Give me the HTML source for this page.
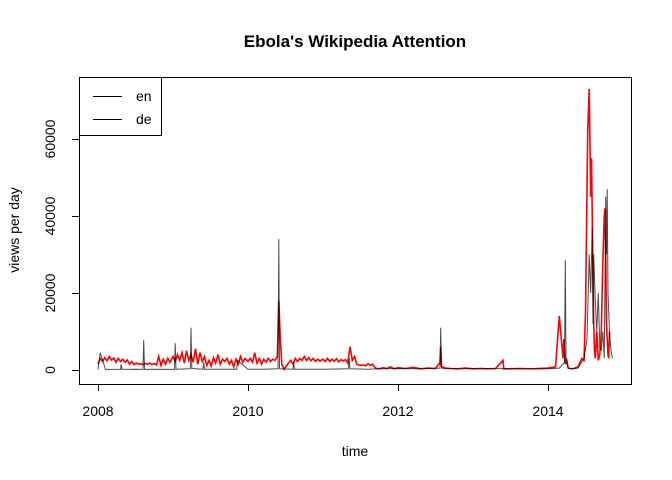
<!DOCTYPE html>
<html><head><meta charset="utf-8"><style>
body{margin:0;background:#fff;}
svg{display:block;font-family:"Liberation Sans",Arial,sans-serif;}
</style></head><body>
<svg id="chart" width="672" height="480" viewBox="0 0 672 480">
<rect width="672" height="480" fill="#fff"/>
<text x="355" y="47" font-size="17" font-weight="bold" text-anchor="middle">Ebola's Wikipedia Attention</text>
<text x="355" y="456" font-size="14" text-anchor="middle">time</text>
<text transform="translate(19,230) rotate(-90)" font-size="14" text-anchor="middle">views per day</text>
<g id="series"></g>
<g id="axes"></g>
<rect x="79.5" y="77.5" width="552" height="307" fill="none" stroke="#000"/>
<g>
<rect x="79.5" y="77.5" width="82" height="58" fill="#fff" stroke="#000"/>
<line x1="93" y1="96.5" x2="122" y2="96.5" stroke="#000"/>
<text x="136" y="101" font-size="14">en</text>
<line x1="93" y1="119.5" x2="122" y2="119.5" stroke="#000"/>
<text x="136" y="124" font-size="14">de</text>
</g>
</svg>
<script>
const xTicks=[2008,2010,2012,2014];
const yTicks=[0,20000,40000,60000];
const redYears=[2008.00,2008.03,2008.06,2008.09,2008.12,2008.15,2008.18,2008.21,2008.24,2008.27,2008.30,2008.33,2008.36,2008.39,2008.42,2008.45,2008.48,2008.51,2008.54,2008.57,2008.60,2008.63,2008.66,2008.69,2008.72,2008.75,2008.78,2008.81,2008.84,2008.87,2008.90,2008.93,2008.96,2009.00,2009.03,2009.06,2009.09,2009.12,2009.15,2009.18,2009.21,2009.24,2009.27,2009.30,2009.33,2009.36,2009.39,2009.42,2009.45,2009.48,2009.51,2009.54,2009.57,2009.60,2009.63,2009.66,2009.69,2009.72,2009.75,2009.78,2009.81,2009.84,2009.87,2009.90,2009.93,2009.96,2010.00,2010.03,2010.06,2010.09,2010.12,2010.15,2010.18,2010.21,2010.24,2010.27,2010.30,2010.33,2010.36,2010.39,2010.41,2010.43,2010.45,2010.48,2010.51,2010.54,2010.57,2010.60,2010.63,2010.66,2010.69,2010.72,2010.75,2010.78,2010.81,2010.84,2010.87,2010.90,2010.93,2010.96,2011.00,2011.03,2011.06,2011.09,2011.12,2011.15,2011.18,2011.21,2011.24,2011.27,2011.30,2011.33,2011.36,2011.39,2011.42,2011.45,2011.48,2011.51,2011.54,2011.57,2011.60,2011.63,2011.66,2011.70,2011.75,2011.80,2011.85,2011.90,2011.95,2012.00,2012.10,2012.20,2012.30,2012.40,2012.50,2012.56,2012.57,2012.58,2012.62,2012.70,2012.80,2012.90,2013.00,2013.10,2013.20,2013.30,2013.40,2013.41,2013.45,2013.60,2013.80,2014.00,2014.10,2014.15,2014.20,2014.21,2014.23,2014.25,2014.27,2014.30,2014.33,2014.36,2014.40,2014.45,2014.48,2014.50,2014.53,2014.55,2014.57,2014.58,2014.60,2014.61,2014.62,2014.63,2014.65,2014.67,2014.69,2014.71,2014.73,2014.75,2014.76,2014.77,2014.78,2014.79,2014.80,2014.81,2014.82,2014.83,2014.84,2014.86];
const redValues=[1500,3000,2200,3200,2400,3500,2600,3100,2000,3000,2200,2800,2000,2600,1500,2200,1400,1800,1500,1600,1400,1700,1500,1800,1400,1700,1300,3500,1200,2800,1500,3000,2000,3500,2200,4000,2500,4500,1800,5000,2500,4000,2000,5500,1500,4500,2200,3500,1200,2500,1000,3200,1800,4000,1500,2800,2200,3000,1500,2500,800,2800,1500,3500,2000,3000,2200,3000,2000,4500,1800,3000,1500,2800,2000,3000,2200,2800,2500,3500,18000,8000,1500,200,1000,1800,2500,1500,3000,2200,3000,2500,3500,2500,3200,2400,3000,2200,2800,2300,2800,2200,3000,2200,2800,2300,2900,2100,2700,2300,2700,1800,6000,2500,3500,1500,1300,1200,1300,1100,1600,1200,1500,500,300,600,400,800,300,600,400,700,300,500,400,2000,6000,1000,500,400,300,500,300,400,300,400,2500,300,300,400,300,500,800,14000,3000,8000,1500,2500,500,400,300,500,800,3000,2500,15000,62000,73000,45000,55000,25000,12000,5000,3000,10000,2500,4000,10000,28000,40000,42000,30000,12000,8000,4000,3000,10000];
const blackYears=[2008.00,2008.03,2008.10,2008.30,2008.31,2008.32,2008.50,2008.60,2008.61,2008.62,2008.80,2009.02,2009.03,2009.04,2009.23,2009.24,2009.25,2009.40,2009.41,2009.42,2009.70,2009.85,2009.86,2010.00,2010.20,2010.40,2010.41,2010.42,2010.60,2010.61,2010.62,2011.00,2011.34,2011.35,2011.36,2011.60,2011.75,2012.00,2012.30,2012.56,2012.57,2012.58,2012.80,2013.20,2013.60,2014.00,2014.15,2014.22,2014.23,2014.24,2014.27,2014.30,2014.40,2014.48,2014.52,2014.55,2014.57,2014.59,2014.60,2014.61,2014.63,2014.65,2014.67,2014.69,2014.71,2014.73,2014.75,2014.77,2014.78,2014.79,2014.80,2014.82,2014.84,2014.86];
const blackValues=[100,4500,150,150,1500,150,200,150,7800,150,200,150,7000,200,300,11000,400,200,2000,200,200,200,2500,200,200,300,34000,300,200,2000,200,200,300,3000,300,200,300,400,300,500,11000,500,300,400,300,300,500,2000,28500,3000,500,300,500,3000,8000,30000,20000,37000,12000,30000,18000,10000,20000,6000,5000,10000,3000,45000,30000,47000,20000,10000,5000,3000];

const x0=98,x1=548,px0=2008,px1=2014,y0=370,y1=139,py0=0,py1=60000;
const X=v=>x0+(v-px0)*(x1-x0)/(px1-px0);
const Y=v=>y0+(v-py0)*(y1-y0)/(py1-py0);
const NS='http://www.w3.org/2000/svg';
const axes=document.getElementById('axes'),series=document.getElementById('series');
function mk(tag,attrs,parent){const e=document.createElementNS(NS,tag);for(const k in attrs)e.setAttribute(k,attrs[k]);parent.appendChild(e);return e;}
let l=mk('line',{x1:X(xTicks[0]),x2:X(xTicks[xTicks.length-1]),y1:384.5,y2:384.5,stroke:'#000'},axes);


xTicks.forEach(t=>{
 const tk=mk('line',{x1:X(t)+.5,x2:X(t)+.5,y1:384,y2:391,stroke:'#000'},axes);
 
 
 const tx=mk('text',{x:X(t),y:416,'font-size':14,'text-anchor':'middle'},axes);tx.textContent=t;
 
 
});
l=mk('line',{x1:79.5,x2:79.5,y1:Y(yTicks[0]),y2:Y(yTicks[yTicks.length-1]),stroke:'#000'},axes);


yTicks.forEach(t=>{
 const tk=mk('line',{x1:72,x2:79,y1:Y(t)+.5,y2:Y(t)+.5,stroke:'#000'},axes);
 
 
 const tx=mk('text',{transform:`translate(55,${Y(t)}) rotate(-90)`,'font-size':14,'text-anchor':'middle'},axes);tx.textContent=t;
 
 
});
function draw(ys,vs,col,w,name){
 const p=mk('polyline',{points:ys.map((y,i)=>X(y).toFixed(1)+','+Y(vs[i]).toFixed(1)).join(' '),fill:'none',stroke:col,'stroke-width':w},series);
 
 
}
draw(redYears,redValues,'#ff0000',1.6,'series-en-line');
draw(blackYears,blackValues,'rgba(0,0,0,0.7)',1,'series-de-line');
</script>
</body></html>
